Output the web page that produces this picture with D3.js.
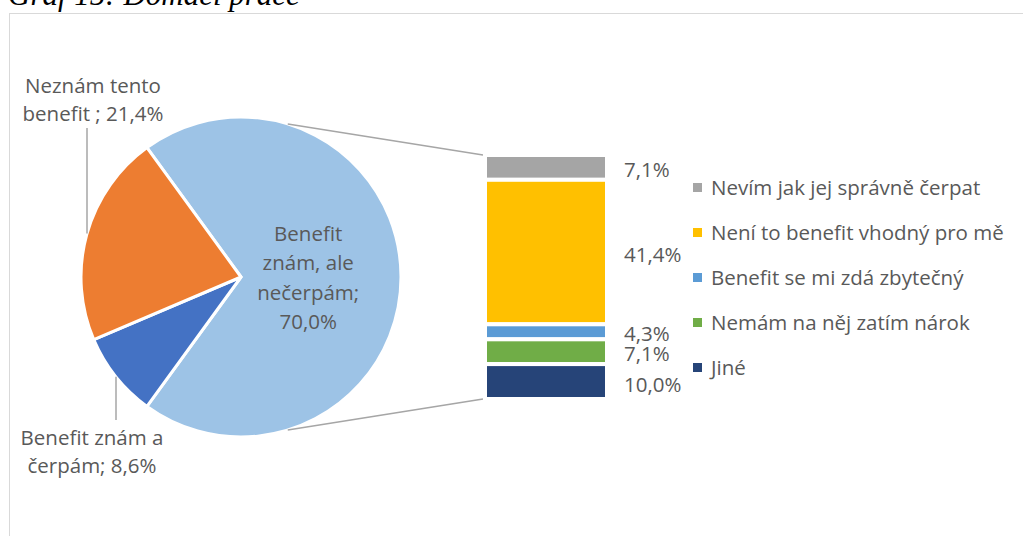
<!DOCTYPE html>
<html>
<head>
<meta charset="utf-8">
<script src="https://cdn.jsdelivr.net/npm/d3@7"></script>
<style>
  body { margin: 0; background: #fff; }
  svg text { font-family: "Open Sans", "Noto Sans", sans-serif; fill: #595959; }
</style>
</head>
<body>
<svg id="chart" width="1023" height="536"></svg>
<script>
// main pie
const pieNames = ["Benefit znám, ale nečerpám", "Benefit znám a čerpám", "Neznám tento benefit "];
const pieValues = [70.0, 8.6, 21.4];
const pieColors = ["#9DC3E6", "#4472C4", "#ED7D31"];
// how each pie label is broken into lines
const pieLabelLines = [
  ["Benefit", "znám, ale", "nečerpám;", "70,0%"],
  ["Benefit znám a", "čerpám; 8,6%"],
  ["Neznám tento", "benefit ; 21,4%"]
];

// breakdown bar of the 70 % slice
const barNames = ["Nevím jak jej správně čerpat", "Není to benefit vhodný pro mě", "Benefit se mi zdá zbytečný", "Nemám na něj zatím nárok", "Jiné"];
const barValues = [7.1, 41.4, 4.3, 7.1, 10.0];
const barColors = ["#A5A5A5", "#FFC000", "#5B9BD5", "#70AD47", "#264478"];

const fmt = v => d3.format(".1f")(v).replace(".", ",") + "%";
const fontSize = "20.5px";

const svg = d3.select("#chart");

// title (cut off at the top of the page)
svg.append("text")
  .attr("x", 8).attr("y", 5)
  .style("font-family", "'Liberation Serif', 'Times New Roman', serif")
  .style("font-style", "italic")
  .style("font-size", "31px")
  .style("fill", "#000")
  .text("Graf 15: Domácí práce");

// chart area border
svg.append("rect")
  .attr("x", 9.5).attr("y", 13.5)
  .attr("width", 1100).attr("height", 600)
  .attr("fill", "none")
  .attr("stroke", "#D9D9D9")
  .attr("stroke-width", 1);

const cx = 241, cy = 277, r = 160;

const pie = d3.pie().sort(null)
  .startAngle(Math.PI / 2 - Math.PI * pieValues[0] / 100)
  .endAngle(Math.PI / 2 - Math.PI * pieValues[0] / 100 + 2 * Math.PI);
const arcs = pie(pieValues);
const arc = d3.arc().innerRadius(0).outerRadius(r);

const pg = svg.append("g").attr("transform", `translate(${cx},${cy})`);
pg.selectAll("path")
  .data(arcs)
  .enter().append("path")
  .attr("d", arc)
  .attr("fill", (d, i) => pieColors[i])
  .attr("stroke", "#fff")
  .attr("stroke-width", 3)
  .attr("stroke-linejoin", "round");

// bar scale
const barTop = 155, barBottom = 399;
const barX0 = 485, barX1 = 607;
const y = d3.scaleLinear()
  .domain([0, d3.sum(barValues)])
  .range([barTop, barBottom]);
const stacked = [];
let acc = 0;
barValues.forEach((v, i) => { stacked.push({ i, y0: acc, y1: acc + v, v }); acc += v; });

// connector lines from the pie to the bar
const connAngle = 73 * Math.PI / 180;
const conn = [
  [[cx + r * Math.cos(-connAngle), cy + r * Math.sin(-connAngle)], [barX0 - 2, y(0)]],
  [[cx + r * Math.cos(connAngle), cy + r * Math.sin(connAngle)], [barX0 - 2, y(d3.sum(barValues))]]
];
svg.selectAll("line.conn")
  .data(conn)
  .enter().append("line")
  .attr("class", "conn")
  .attr("x1", d => d[0][0]).attr("y1", d => d[0][1])
  .attr("x2", d => d[1][0]).attr("y2", d => d[1][1])
  .attr("stroke", "#A6A6A6")
  .attr("stroke-width", 1.5);

svg.selectAll("rect.seg")
  .data(stacked)
  .enter().append("rect")
  .attr("class", "seg")
  .attr("x", barX0).attr("width", barX1 - barX0)
  .attr("y", d => y(d.y0))
  .attr("height", d => y(d.y1) - y(d.y0))
  .attr("fill", d => barColors[d.i])
  .attr("stroke", "#fff")
  .attr("stroke-width", 4);

// bar value labels
const barLabelNudge = [2, 2, 1, 1, 2];
svg.selectAll("text.bv")
  .data(stacked)
  .enter().append("text")
  .attr("class", "bv")
  .attr("x", 624)
  .attr("y", d => (y(d.y0) + y(d.y1)) / 2 + barLabelNudge[d.i])
  .attr("dominant-baseline", "central")
  .style("font-size", fontSize)
  .text(d => fmt(d.v));

// legend
const legend = svg.append("g").attr("transform", "translate(693,187)");
const lg = legend.selectAll("g")
  .data(barNames)
  .enter().append("g")
  .attr("transform", (d, i) => `translate(0,${i * 45})`);
lg.append("rect")
  .attr("x", 0).attr("y", -4)
  .attr("width", 9).attr("height", 9)
  .attr("fill", (d, i) => barColors[i]);
lg.append("text")
  .attr("x", 18).attr("y", 0)
  .attr("dominant-baseline", "central")
  .style("font-size", fontSize)
  .text(d => d);

// pie labels
const lineH = 29.5;
// inside label of the big slice
const big = arcs[0];
const mid = (big.startAngle + big.endAngle) / 2;
const inR = r * 0.42;
const inside = svg.append("text")
  .attr("text-anchor", "middle")
  .style("font-size", fontSize);
pieLabelLines[0].forEach((t, k) => {
  inside.append("tspan")
    .attr("x", cx + inR * Math.sin(mid))
    .attr("y", cy - inR * Math.cos(mid) + (k - 1.5) * lineH)
    .attr("dominant-baseline", "central")
    .text(t);
});

// outside labels with leader lines
const outside = [
  { idx: 2, lx: 93, ly: 85, leaderX: 87, leaderTop: 128, side: -1 },
  { idx: 1, lx: 92, ly: 437, leaderX: 116, leaderTop: 420, side: 1 }
];
outside.forEach(o => {
  const t = svg.append("text")
    .attr("text-anchor", "middle")
    .style("font-size", fontSize);
  pieLabelLines[o.idx].forEach((s, k) => {
    t.append("tspan")
      .attr("x", o.lx)
      .attr("y", o.ly + k * 28)
      .attr("dominant-baseline", "central")
      .text(s);
  });
  const dx = o.leaderX - cx;
  const edgeY = cy + o.side * Math.sqrt(r * r - dx * dx);
  svg.append("line")
    .attr("x1", o.leaderX).attr("x2", o.leaderX)
    .attr("y1", o.leaderTop).attr("y2", edgeY)
    .attr("stroke", "#A6A6A6")
    .attr("stroke-width", 1.5);
});
</script>
</body>
</html>
